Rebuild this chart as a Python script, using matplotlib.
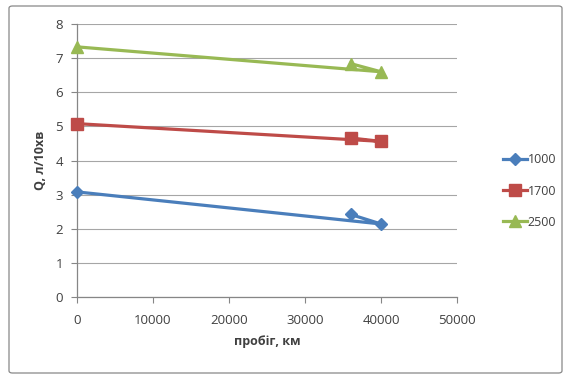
import matplotlib
matplotlib.use("Agg")
import matplotlib.pyplot as plt
from matplotlib.patches import FancyBboxPatch

# run order as plotted in the original sheet: 0 km, 40000 km, 36000 km
mileage = [0, 40000, 36000]
q_1000 = [3.08, 2.14, 2.42]
q_1700 = [5.08, 4.56, 4.66]
q_2500 = [7.33, 6.60, 6.84]
series_names = ["1000", "1700", "2500"]

y_ticks = list(range(0, 9))
x_ticks = [0, 10000, 20000, 30000, 40000, 50000]

plt.rcParams['font.family'] = ['Open Sans', 'DejaVu Sans']

fig = plt.figure(figsize=(5.68, 3.78), dpi=100)

# outer chart border
border = FancyBboxPatch((9 / 568, 5 / 378), 553 / 568, 367 / 378,
                        boxstyle="round,pad=0,rounding_size=0.006",
                        transform=fig.transFigure, fill=False,
                        edgecolor="#888888", linewidth=0.9)
fig.patches.append(border)

ax = fig.add_axes([77 / 568, 1 - 297 / 378, 380 / 568, 273 / 378])

styles = [
    (q_1000, "#4A7EBB", "D", 6),
    (q_1700, "#BE4B48", "s", 8),
    (q_2500, "#98B954", "^", 8.5),
]
for (vals, color, marker, ms), name in zip(styles, series_names):
    ax.plot(mileage, vals, color=color, linewidth=2.3, marker=marker,
            markersize=ms, label=name, clip_on=False, zorder=3)

ax.set_xlim(0, 50000)
ax.set_ylim(0, 8)
ax.set_xticks(x_ticks)
ax.set_yticks(y_ticks)
ax.yaxis.grid(True, color="#a6a6a6", linewidth=0.8)
ax.set_axisbelow(True)

for side in ["top", "right"]:
    ax.spines[side].set_visible(False)
for side in ["left", "bottom"]:
    ax.spines[side].set_color("#868686")
    ax.spines[side].set_linewidth(0.9)

ax.tick_params(axis="both", colors="#868686", labelcolor="#404040",
               labelsize=9.5, length=4, direction="out")
ax.tick_params(axis="x", pad=8)
ax.tick_params(axis="y", pad=6)

ax.set_xlabel("пробіг, км", fontsize=9, fontweight="bold", color="#404040",
              labelpad=6)
ax.set_ylabel("Q, л/10хв", fontsize=9, fontweight="bold", color="#404040",
              labelpad=6)

leg = fig.legend(loc="center left", bbox_to_anchor=(497 / 568, 1 - 191 / 378),
                 frameon=False, fontsize=9, handlelength=1.9,
                 labelspacing=1.45, handletextpad=0.05, borderpad=0)
for t in leg.get_texts():
    t.set_color("#404040")

fig.savefig("out.png", dpi=100)
plt.close(fig)
